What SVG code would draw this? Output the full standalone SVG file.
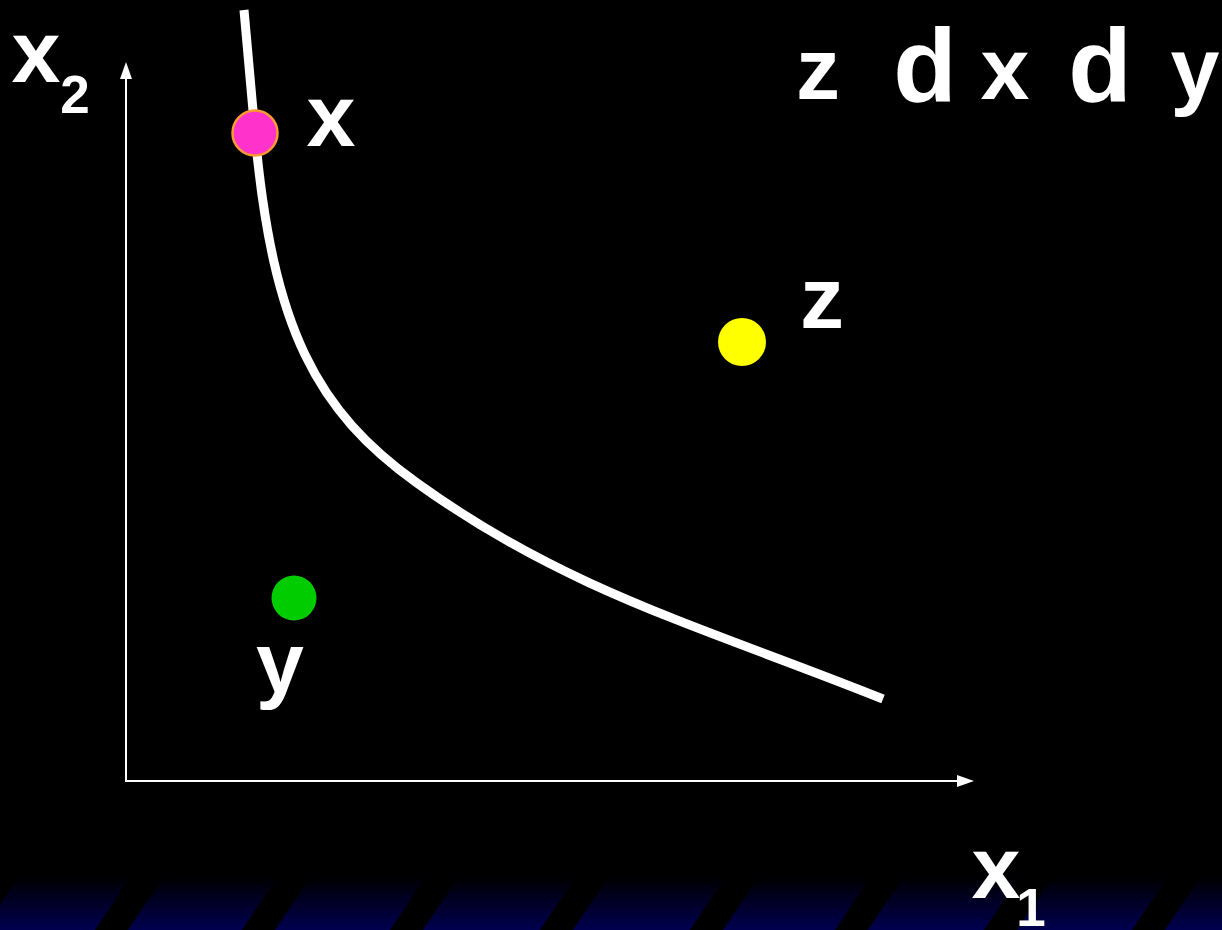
<svg xmlns="http://www.w3.org/2000/svg" width="1222" height="930" viewBox="0 0 1222 930">
  <defs>
    <linearGradient id="band" x1="0" y1="876" x2="0" y2="930" gradientUnits="userSpaceOnUse">
      <stop offset="0" stop-color="#000000"/>
      <stop offset="1" stop-color="#00004f"/>
    </linearGradient>
    <style>
      .lbl { font-family: "Liberation Sans", Arial, sans-serif; font-weight: bold; fill: #ffffff; text-anchor: middle; }
      .axis { stroke: #ffffff; stroke-width: 2; fill: none; }
      .head { fill: #ffffff; }
      .gap { fill: #000000; }
    </style>
  </defs>
  <rect x="0" y="0" width="1222" height="930" fill="#000000"/>
  <g id="background-band">
    <rect x="0" y="876" width="1222" height="54" fill="url(#band)"/>
    <polygon class="gap" points="-18,876 19,876 -17,930 -54,930"/>
    <polygon class="gap" points="131,876 164,876 128,930 95,930"/>
    <polygon class="gap" points="278,876 311,876 275,930 242,930"/>
    <polygon class="gap" points="426,876 459,876 423,930 390,930"/>
    <polygon class="gap" points="576,876 609,876 573,930 540,930"/>
    <polygon class="gap" points="726,876 759,876 723,930 690,930"/>
    <polygon class="gap" points="871,876 904,876 868,930 835,930"/>
    <polygon class="gap" points="1020,876 1053,876 1017,930 984,930"/>
    <polygon class="gap" points="1168,876 1201,876 1165,930 1132,930"/>
  </g>
  <g id="axes">
    <line class="axis" x1="126" y1="782" x2="126" y2="76"/>
    <polygon class="head" points="126,62 120,79 132,79"/>
    <line class="axis" x1="125" y1="781" x2="960" y2="781"/>
    <polygon class="head" points="974,781 957,775 957,787"/>
  </g>
  <g id="indifference-curve">
    <path d="M244,10 C247.7,51 251.3,92 255,133 C272.6,330 317,411 417,483 C567,591 703,627 883,699" fill="none" stroke="#ffffff" stroke-width="9"/>
  </g>
  <g id="point-x">
    <circle cx="255" cy="133" r="22.5" fill="#ff33cc" stroke="#ff9933" stroke-width="2.5"/>
    <text class="lbl" x="331" y="146" font-size="88">x</text>
  </g>
  <g id="point-z">
    <circle cx="742" cy="342" r="24" fill="#ffff00"/>
    <text class="lbl" x="822" y="328" font-size="88">z</text>
  </g>
  <g id="point-y">
    <circle cx="294" cy="598" r="22.5" fill="#00cc00"/>
    <text class="lbl" x="280" y="692" font-size="86">y</text>
  </g>
  <g id="axis-labels">
    <text class="lbl" x="36" y="82" font-size="88">x<tspan x="75" y="113" font-size="53">2</tspan></text>
    <text class="lbl" x="996" y="898" font-size="88">x<tspan x="1031" y="926" font-size="53">1</tspan></text>
  </g>
  <g id="preference-relation">
    <text class="lbl" y="99" font-size="88"><tspan x="818">z</tspan><tspan x="925" y="101" font-size="104">d</tspan><tspan x="1005" y="99">x</tspan><tspan x="1100" y="101" font-size="104">d</tspan><tspan x="1195" y="99">y</tspan></text>
  </g>
</svg>
